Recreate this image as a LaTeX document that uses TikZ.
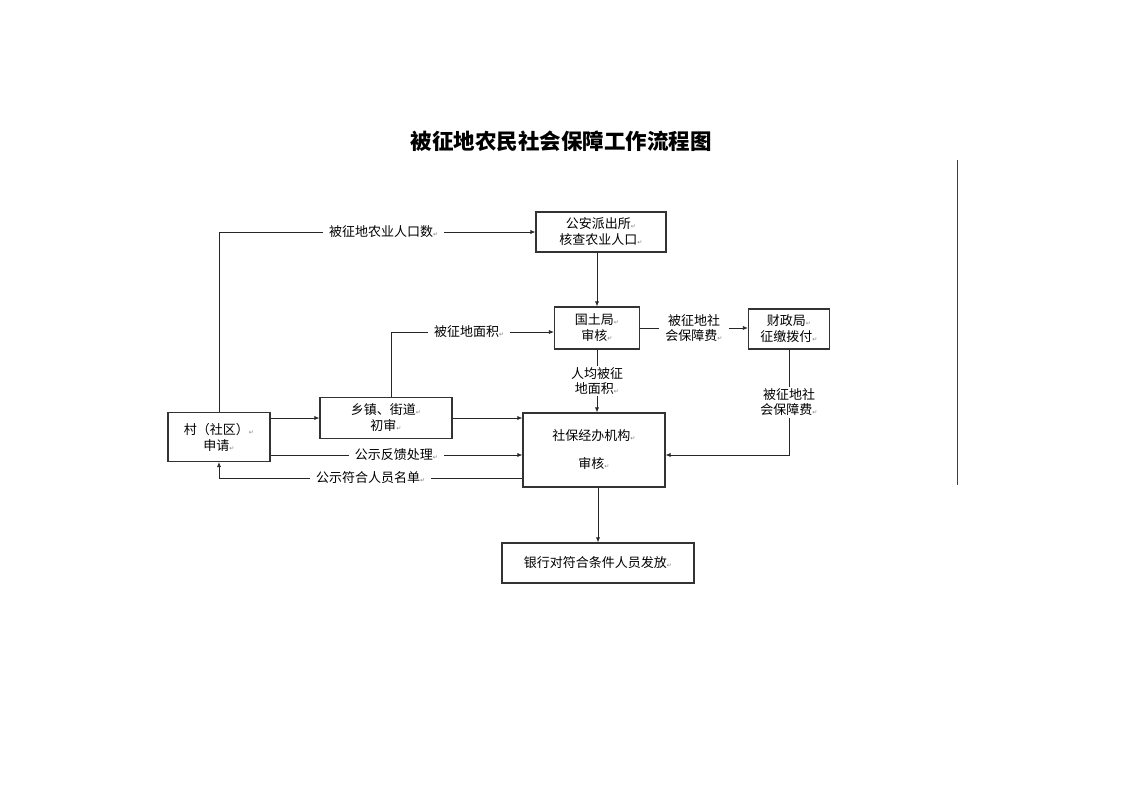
\documentclass[tikz,border=0pt]{standalone}
\usepackage{fontspec}
\newfontfamily\cjk{Noto Sans CJK SC}
\newfontfamily\djv{DejaVu Sans}
\usetikzlibrary{arrows.meta}
\newcommand{\parmark}{{\djv\fontsize{6}{6}\selectfont\color{gray}↵}}
\begin{document}
\begin{tikzpicture}[x=1pt, y=-1pt,
  box/.style={draw=black!80, line width=1.1pt, fill=white, align=center,
              inner sep=0pt, font=\cjk\fontsize{13}{16}\selectfont},
  lbl/.style={fill=white, align=center, inner xsep=6pt, inner ysep=2pt,
              font=\cjk\fontsize{13}{15}\selectfont},
  arr/.style={draw=black!85, line width=0.7pt, -{Latex[length=5pt,width=4pt]}}]
\useasboundingbox (0,0) rectangle (1122,793);
\node (title) at (561,141) {\cjk\bfseries\fontsize{21.5}{25}\selectfont 被征地农民社会保障工作流程图};
\node [box, minimum width=130pt, minimum height=40pt] (pa) at (601,232) {公安派出所\parmark\\核查农业人口\parmark};
\node [box, minimum width=85pt, minimum height=42pt] (gt) at (597,328) {国土局\parmark\\审核\parmark};
\node [box, minimum width=81pt, minimum height=40pt] (cz) at (789,329) {财政局\parmark\\征缴拨付\parmark};
\node [box, minimum width=132pt, minimum height=41pt] (xz) at (386,418) {乡镇、街道\parmark\\初审\parmark};
\node [box, minimum width=102pt, minimum height=49pt] (cun) at (219,437) {村（社区）\parmark\\申请\parmark};
\node [box, minimum width=142pt, minimum height=74pt] (sb) at (594,450) {社保经办机构\parmark\\[12pt]审核\parmark};
\node [box, minimum width=192pt, minimum height=40pt] (bank) at (598,563) {银行对符合条件人员发放\parmark};
\draw [arr] (cun.north) |- (pa.west) node[lbl, pos=0.76] {被征地农业人口数\parmark};
\draw [arr] (pa.south -| gt.north) -- (gt.north);
\draw [arr] ([xshift=5pt]xz.north) |- ([yshift=-4pt]gt.west) node[lbl, pos=0.74] {被征地面积\parmark};
\draw [arr] (gt.east) -- (gt.east -| cz.west) node[lbl, midway] {被征地社\\会保障费\parmark};
\draw [arr] (gt.south) -- (gt.south |- sb.north) node[lbl, midway] {人均被征\\地面积\parmark};
\draw [arr] (cz.south) |- ([yshift=-5pt]sb.east) node[lbl, pos=0.25] {被征地社\\会保障费\parmark};
\draw [arr] (cun.east |- xz.west) -- (xz.west);
\draw [arr] (xz.east) -- (xz.east -| sb.west);
\draw [arr] ([yshift=-18pt]cun.east) coordinate (fb) -- (fb -| sb.west) node[lbl, midway] {公示反馈处理\parmark};
\draw [arr] ([yshift=-28pt]sb.west) coordinate (gs) -- (gs -| cun.south) node[lbl, midway] {公示符合人员名单\parmark} -- (cun.south);
\draw [arr] (bank.north |- sb.south) -- (bank.north);
% page edge
\draw [black!75, line width=0.8pt] (957,160) -- (957,485);
\end{tikzpicture}
\end{document}
